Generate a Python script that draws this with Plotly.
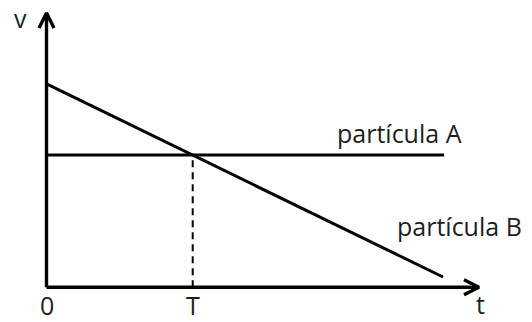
import plotly.graph_objects as go

# ---- data (t in units of T, v in units of v_A) ----
t_B = [0.0, 2.712]
v_B = [1.537, 0.078]
t_A = [0.0, 2.72]
v_A = [1.0, 1.0]
T_val = 1.0
axis_t_end = 2.958
axis_v_end = 2.073
tick_labels = ["0", "T"]
tick_pos = [0.0, T_val]
series_labels = ["partícula A", "partícula B"]
axis_names = ["t", "v"]

# ---- layout geometry (pixel mapping) ----
W, H = 532, 322
ox, oy = 46.5, 287.3       # origin in pixels
sx, sy = 146.2, 132.3      # pixels per unit
xr = [-ox / sx, (W - ox) / sx]
yr = [-(H - oy) / sy, oy / sy]

def px2x(p):
    return (p - ox) / sx

def px2y(p):
    return (oy - p) / sy

ink = "black"
txt = "#1e1e1e"
font = dict(family="Open Sans", size=25, color=txt)

fig = go.Figure()

# axes
fig.add_trace(go.Scatter(x=[0, axis_t_end], y=[0, 0], mode="lines",
                         line=dict(color=ink, width=3.4), hoverinfo="skip"))
fig.add_trace(go.Scatter(x=[0, 0], y=[0, axis_v_end], mode="lines",
                         line=dict(color=ink, width=3.4), hoverinfo="skip"))
# arrowheads (chevrons)
ah_back, ah_half = 15, 7.5
fig.add_trace(go.Scatter(
    x=[axis_t_end - ah_back / sx, axis_t_end, axis_t_end - ah_back / sx],
    y=[ah_half / sy, 0, -ah_half / sy], mode="lines",
    line=dict(color=ink, width=3.4), hoverinfo="skip"))
fig.add_trace(go.Scatter(
    x=[-ah_half / sx, 0, ah_half / sx],
    y=[axis_v_end - ah_back / sy, axis_v_end, axis_v_end - ah_back / sy], mode="lines",
    line=dict(color=ink, width=3.4), hoverinfo="skip"))

# particle lines
fig.add_trace(go.Scatter(x=t_A, y=v_A, mode="lines",
                         line=dict(color=ink, width=3), hoverinfo="skip"))
fig.add_trace(go.Scatter(x=t_B, y=v_B, mode="lines",
                         line=dict(color=ink, width=3), hoverinfo="skip"))
# dashed guide at T
fig.add_trace(go.Scatter(x=[T_val, T_val], y=[0, v_A[0]], mode="lines",
                         line=dict(color=ink, width=2, dash="7px,5px"), hoverinfo="skip"))

ann = []
for lab, p in zip(tick_labels, tick_pos):
    ann.append(dict(x=p, y=px2y(305), text=lab, showarrow=False, font=font,
                    xanchor="center", yanchor="middle"))
ann.append(dict(x=480 / W, xref="paper", y=0, yref="paper", yshift=0, borderpad=0,
                text=axis_names[0], showarrow=False,
                font=font, xanchor="center", yanchor="bottom"))
ann.append(dict(x=20 / W, xref="paper", y=1, yref="paper", yshift=0, borderpad=0,
                text=axis_names[1], showarrow=False,
                font=font, xanchor="center", yanchor="top"))
ann.append(dict(x=px2x(399.5), y=px2y(133), text=series_labels[0], showarrow=False,
                font=font, xanchor="center", yanchor="middle"))
ann.append(dict(x=px2x(459), y=px2y(226), text=series_labels[1], showarrow=False,
                font=font, xanchor="center", yanchor="middle"))

fig.update_layout(
    width=W, height=H, autosize=False,
    margin=dict(l=0, r=0, t=0, b=0, pad=0),
    paper_bgcolor="white", plot_bgcolor="white",
    showlegend=False,
    xaxis=dict(range=xr, visible=False, fixedrange=True),
    yaxis=dict(range=yr, visible=False, fixedrange=True),
    annotations=ann,
)

fig.write_html("out.html", config={"displayModeBar": False},
               post_script="document.body.style.margin='0';document.body.style.overflow='hidden';")
